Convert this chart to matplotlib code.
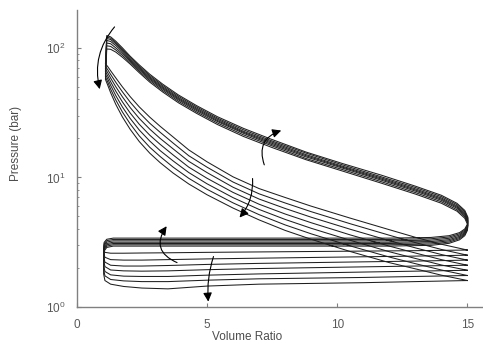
import numpy as np
import matplotlib.pyplot as plt

plt.rcParams['font.family'] = ['Liberation Sans', 'DejaVu Sans']

# volume ratio grids for each stroke
v_comp = [15, 14, 13, 12, 10.5, 9, 8, 7, 6, 5, 4.3, 3.7, 3.2, 2.8, 2.4, 2.05, 1.75, 1.5, 1.3, 1.18, 1.1]
v_exp = [1.15, 1.3, 1.5, 1.75, 2.05, 2.4, 2.8, 3.3, 3.9, 4.6, 5.4, 6.4, 7.5, 8.8, 10.2, 11.7,
         13.0, 14.0, 14.6, 14.9, 15.02]
v_exh = [15.0, 14.9, 14.7, 14.3, 13.6, 12, 9, 6, 3.5, 2, 1.4, 1.15, 1.05]
v_int = [1.03, 1.08, 1.3, 1.8, 2.5, 3.5, 5, 7, 9, 11, 13, 15]

# pressures (bar), one row per cycle
p_comp = [
    [1.60, 1.76, 1.97, 2.20, 2.68, 3.33, 3.90, 4.70, 5.80, 7.35, 8.90, 10.8, 13.0, 15.4, 18.9, 23.5, 29.3, 36.5, 45.0, 52.0, 57.0],
    [1.75, 1.93, 2.16, 2.43, 2.96, 3.67, 4.30, 5.16, 6.36, 8.10, 9.84, 12.0, 14.5, 17.1, 20.9, 25.9, 32.0, 39.5, 48.0, 54.9, 59.7],
    [1.92, 2.11, 2.37, 2.67, 3.27, 4.05, 4.74, 5.66, 6.98, 8.93, 10.9, 13.4, 16.1, 19.1, 23.2, 28.5, 35.0, 42.7, 51.3, 58.0, 62.5],
    [2.10, 2.32, 2.61, 2.95, 3.60, 4.47, 5.22, 6.21, 7.66, 9.85, 12.0, 14.9, 18.0, 21.2, 25.7, 31.4, 38.3, 46.2, 54.7, 61.2, 65.4],
    [2.30, 2.54, 2.86, 3.25, 3.98, 4.93, 5.76, 6.81, 8.40, 10.9, 13.3, 16.6, 20.0, 23.6, 28.5, 34.6, 41.9, 50.0, 58.4, 64.6, 68.4],
    [2.51, 2.78, 3.14, 3.58, 4.39, 5.44, 6.35, 7.47, 9.21, 12.0, 14.7, 18.4, 22.3, 26.2, 31.6, 38.1, 45.8, 54.1, 62.3, 68.2, 71.6],
    [2.75, 3.05, 3.45, 3.95, 4.85, 6.00, 7.00, 8.20, 10.1, 13.2, 16.3, 20.5, 24.8, 29.2, 35.0, 42.0, 50.0, 58.5, 66.5, 72.0, 75.0],
]
p_exp = [
    [98.0, 97.4, 92.6, 84.6, 74.9, 64.2, 54.4, 45.6, 37.7, 31.2, 25.6, 20.7, 17.0, 13.7, 11.2, 9.02, 7.44, 6.32, 5.49, 4.84, 4.28],
    [103.7, 102.5, 96.2, 87.4, 76.9, 65.9, 55.9, 46.8, 38.7, 32.0, 26.3, 21.3, 17.5, 14.0, 11.5, 9.26, 7.64, 6.49, 5.63, 4.97, 4.39],
    [108.9, 107.5, 99.8, 90.2, 78.9, 67.6, 57.3, 48.0, 39.7, 32.8, 27.0, 21.9, 17.9, 14.4, 11.8, 9.51, 7.84, 6.66, 5.78, 5.10, 4.51],
    [114.0, 112.0, 104.0, 93.0, 80.5, 69.0, 58.5, 49.0, 40.5, 33.5, 27.5, 22.3, 18.3, 14.7, 12.0, 9.70, 8.00, 6.80, 5.90, 5.20, 4.60],
    [118.0, 115.9, 107.1, 95.3, 82.1, 70.4, 59.7, 50.0, 41.3, 34.2, 28.1, 22.7, 18.7, 15.0, 12.2, 9.89, 8.16, 6.94, 6.02, 5.30, 4.69],
    [120.8, 118.7, 109.7, 97.7, 84.1, 72.1, 61.1, 51.2, 42.3, 35.0, 28.7, 23.3, 19.1, 15.4, 12.5, 10.1, 8.36, 7.11, 6.17, 5.43, 4.81],
    [124.3, 121.5, 112.3, 100.0, 86.1, 73.8, 62.6, 52.4, 43.3, 35.8, 29.4, 23.9, 19.6, 15.7, 12.8, 10.4, 8.56, 7.28, 6.31, 5.56, 4.92],
]
p_exh = [
    [3.90, 3.55, 3.30, 3.10, 2.99, 2.95, 2.95, 2.95, 2.95, 2.95, 2.95, 2.88, 2.70],
    [3.97, 3.62, 3.37, 3.17, 3.06, 3.02, 3.02, 3.02, 3.02, 3.02, 3.02, 2.95, 2.77],
    [4.04, 3.69, 3.44, 3.24, 3.13, 3.09, 3.09, 3.09, 3.09, 3.09, 3.09, 3.02, 2.84],
    [4.11, 3.76, 3.51, 3.31, 3.20, 3.16, 3.16, 3.16, 3.16, 3.16, 3.16, 3.09, 2.91],
    [4.19, 3.84, 3.59, 3.39, 3.28, 3.24, 3.24, 3.24, 3.24, 3.24, 3.24, 3.17, 2.99],
    [4.27, 3.92, 3.67, 3.47, 3.36, 3.32, 3.32, 3.32, 3.32, 3.32, 3.32, 3.25, 3.07],
    [4.35, 4.00, 3.75, 3.55, 3.44, 3.40, 3.40, 3.40, 3.40, 3.40, 3.40, 3.33, 3.15],
]
p_int = [
    [1.80, 1.60, 1.50, 1.44, 1.40, 1.38, 1.45, 1.50, 1.52, 1.54, 1.57, 1.60],
    [1.95, 1.74, 1.63, 1.59, 1.57, 1.57, 1.61, 1.65, 1.67, 1.69, 1.72, 1.75],
    [2.10, 1.88, 1.77, 1.73, 1.72, 1.72, 1.76, 1.80, 1.83, 1.86, 1.89, 1.92],
    [2.30, 2.05, 1.93, 1.90, 1.89, 1.90, 1.94, 1.98, 2.01, 2.04, 2.07, 2.10],
    [2.45, 2.22, 2.10, 2.07, 2.07, 2.09, 2.13, 2.17, 2.20, 2.23, 2.26, 2.30],
    [2.62, 2.42, 2.32, 2.30, 2.30, 2.32, 2.35, 2.38, 2.41, 2.44, 2.47, 2.51],
    [2.78, 2.64, 2.60, 2.60, 2.61, 2.62, 2.64, 2.66, 2.68, 2.70, 2.72, 2.75],
]

fig = plt.figure(figsize=(4.83, 3.43), dpi=100)
ax = fig.add_axes([0.159, 0.105, 0.841, 0.866])

# one closed loop per cycle: compression, expansion, blowdown/exhaust, intake
for k in range(len(p_comp)):
    v = v_comp + v_exp + v_exh + v_int
    p = p_comp[k] + p_exp[k] + p_exh[k] + p_int[k]
    ax.plot(v, p, color='0.12', lw=0.75, solid_joinstyle='round')

# arrows showing the trend between cycles
aprops = dict(arrowstyle='-|>', color='k', lw=0.8, mutation_scale=13, shrinkA=0, shrinkB=0)
ax.annotate('', xy=(7.85, 23), xytext=(7.2, 12.5),
            arrowprops=dict(aprops, connectionstyle='arc3,rad=-0.5'))
ax.annotate('', xy=(6.25, 4.9), xytext=(6.75, 9.8),
            arrowprops=dict(aprops, connectionstyle='arc3,rad=-0.2'))
ax.annotate('', xy=(3.45, 4.2), xytext=(3.85, 2.2),
            arrowprops=dict(aprops, connectionstyle='arc3,rad=-0.6'))
ax.annotate('', xy=(5.05, 1.1), xytext=(5.25, 2.45),
            arrowprops=dict(aprops, connectionstyle='arc3,rad=0.1'))
ax.annotate('', xy=(0.88, 48), xytext=(1.45, 145),
            arrowprops=dict(aprops, connectionstyle='arc3,rad=0.25'))

ax.set_yscale('log')
ax.set_xlim(0, 15.6)
ax.set_ylim(1, 196)
ax.set_xticks([0, 5, 10, 15])
for side in ['top', 'right']:
    ax.spines[side].set_visible(False)
for side in ['left', 'bottom']:
    ax.spines[side].set_color('0.5')
    ax.spines[side].set_linewidth(1.0)
ax.tick_params(which='both', direction='in', colors='0.5', labelcolor='0.35', labelsize=8.5)
ax.tick_params(axis='x', pad=9)
ax.tick_params(axis='y', pad=8)
ax.tick_params(which='major', length=3)
ax.tick_params(which='minor', length=1.5)

ax.set_xlabel('Volume Ratio', fontsize=8.5, color='0.3')
ax.xaxis.set_label_coords(0.42, -0.08)
ax.set_ylabel('Pressure (bar)', fontsize=8.5, color='0.3')
ax.yaxis.set_label_coords(-0.135, 0.55)

fig.savefig('out.png', dpi=100)
